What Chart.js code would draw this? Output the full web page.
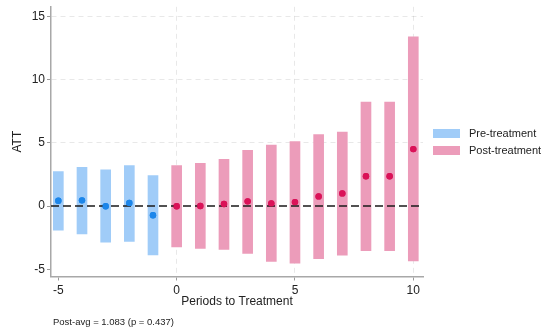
<!DOCTYPE html>
<html>
<head>
<meta charset="utf-8">
<script src="https://cdn.jsdelivr.net/npm/chart.js@4.4.0/dist/chart.umd.min.js"></script>
<style>
  html, body { margin: 0; padding: 0; background: #fff; }
  #wrap { width: 547px; height: 334px; }
</style>
</head>
<body>
<div id="wrap"><canvas id="chart"></canvas></div>
<script>
// event-study estimates
const prePeriods = [-5, -4, -3, -2, -1];
const preAtt = [0.42, 0.45, -0.02, 0.24, -0.73];
const preLow = [-1.91, -2.2, -2.85, -2.8, -3.87];
const preHigh = [2.72, 3.06, 2.86, 3.19, 2.41];

const postPeriods = [0, 1, 2, 3, 4, 5, 6, 7, 8, 9, 10];
const postAtt = [-0.02, 0.0, 0.16, 0.37, 0.21, 0.31, 0.76, 1.0, 2.35, 2.35, 4.5];
const postLow = [-3.24, -3.35, -3.43, -3.74, -4.37, -4.52, -4.16, -3.89, -3.53, -3.53, -4.34];
const postHigh = [3.19, 3.38, 3.69, 4.4, 4.82, 5.1, 5.65, 5.84, 8.22, 8.22, 13.37];

const xTicks = [-5, 0, 5, 10];
const yTicks = [-5, 0, 5, 10, 15];
const footnote = "Post-avg = 1.083 (p = 0.437)";

const preBar = "rgb(160,204,248)";
const prePoint = "rgb(28,134,234)";
const postBar = "rgb(236,156,186)";
const postPoint = "rgb(218,18,88)";
const fontFamily = "'Liberation Sans', Arial, sans-serif";

function bars(periods, lo, hi) {
  return periods.map((p, i) => ({ x: p, y: [lo[i], hi[i]] }));
}
function points(periods, vals) {
  return periods.map((p, i) => ({ x: p, y: vals[i] }));
}

// dashed zero line, legend and footnote
const extras = {
  id: "extras",
  afterDatasetsDraw(chart) {
    const { ctx, chartArea } = chart;
    const y0 = chart.scales.y.getPixelForValue(0);
    ctx.save();
    ctx.strokeStyle = "#1a1a1a";
    ctx.lineWidth = 1.5;
    ctx.setLineDash([8, 4]);
    ctx.beginPath();
    ctx.moveTo(chartArea.left, y0);
    ctx.lineTo(chartArea.right, y0);
    ctx.stroke();
    ctx.restore();
    // points go over the line
    [2, 3].forEach((i) => chart.getDatasetMeta(i).controller.draw());
  },
  afterDraw(chart) {
    const { ctx } = chart;
    ctx.save();
    const items = [
      { label: "Pre-treatment", color: preBar },
      { label: "Post-treatment", color: postBar },
    ];
    ctx.font = "11px " + fontFamily;
    ctx.textBaseline = "middle";
    items.forEach((it, i) => {
      const cy = 133.5 + i * 17;
      ctx.fillStyle = it.color;
      ctx.fillRect(433, cy - 4.5, 27, 9);
      ctx.fillStyle = "#222";
      ctx.fillText(it.label, 469, cy);
    });
    ctx.font = "9.5px " + fontFamily;
    ctx.fillStyle = "#222";
    ctx.fillText(footnote, 53, 322);
    ctx.restore();
  },
};

new Chart(document.getElementById("chart"), {
  type: "bar",
  data: {
    datasets: [
      {
        label: "Pre-treatment",
        data: bars(prePeriods, preLow, preHigh),
        backgroundColor: preBar,
        barThickness: 10,
        grouped: false,
        order: 3,
      },
      {
        label: "Post-treatment",
        data: bars(postPeriods, postLow, postHigh),
        backgroundColor: postBar,
        barThickness: 10,
        grouped: false,
        order: 3,
      },
      {
        type: "scatter",
        data: points(prePeriods, preAtt),
        backgroundColor: prePoint,
        borderWidth: 0,
        pointRadius: 3.2,
        order: 1,
      },
      {
        type: "scatter",
        data: points(postPeriods, postAtt),
        backgroundColor: postPoint,
        borderWidth: 0,
        pointRadius: 3.2,
        order: 1,
      },
    ],
  },
  options: {
    responsive: true,
    maintainAspectRatio: false,
    animation: false,
    layout: { padding: { top: 0, right: 124, bottom: 25, left: 0 } },
    plugins: { legend: { display: false }, tooltip: { enabled: false } },
    scales: {
      x: {
        type: "linear",
        offset: false,
        min: -5.31,
        max: 10.41,
        afterBuildTicks: (s) => { s.ticks = xTicks.map((v) => ({ value: v })); },
        afterFit: (s) => { s.height = 32.5; },
        grid: {
          offset: false,
          color: (c) => (c.tick && c.tick.value === -5 ? "rgba(0,0,0,0)" : "rgba(0,0,0,0.09)"),
          tickLength: 4,
          tickColor: "#9a9a9a",
          tickBorderDash: [],
        },
        border: { display: true, color: "#a8a8a8", width: 1.5, dash: [5, 4] },
        ticks: { color: "#222", font: { family: fontFamily, size: 12 }, padding: 3 },
        title: {
          display: true,
          text: "Periods to Treatment",
          color: "#222",
          font: { family: fontFamily, size: 12 },
          padding: { top: 0, bottom: 0 },
        },
      },
      y: {
        min: -5.57,
        max: 15.75,
        afterBuildTicks: (s) => { s.ticks = yTicks.map((v) => ({ value: v })); },
        afterFit: (s) => { s.width = 51; },
        grid: {
          color: (c) => (c.tick && c.tick.value <= 0 ? "rgba(0,0,0,0)" : "rgba(0,0,0,0.09)"),
          tickLength: 4,
          tickColor: "#9a9a9a",
          tickBorderDash: [],
        },
        border: { display: true, color: "#a8a8a8", width: 1.5, dash: [5, 4] },
        ticks: { color: "#222", font: { family: fontFamily, size: 12, lineHeight: 0.8 }, padding: 2 },
        title: {
          display: true,
          text: "ATT",
          color: "#222",
          font: { family: fontFamily, size: 12 },
          padding: { top: 10, bottom: 0 },
        },
      },
    },
  },
  plugins: [extras],
});
</script>
</body>
</html>
